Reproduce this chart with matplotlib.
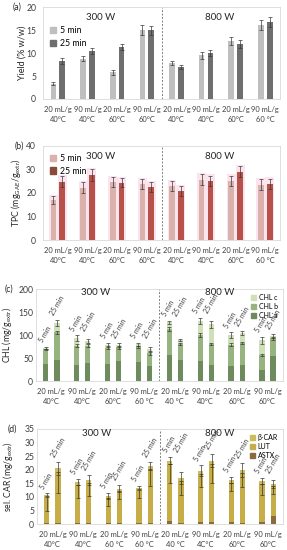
import numpy as np
import matplotlib.pyplot as plt
from matplotlib.patches import Patch

plt.rcParams['font.family'] = ['Lato', 'DejaVu Sans']
plt.rcParams['font.size'] = 5.5
plt.rcParams['mathtext.fontset'] = 'custom'
plt.rcParams['mathtext.rm'] = 'Lato'
plt.rcParams['mathtext.it'] = 'Lato:italic'

# conditions (4 at 300 W, 4 at 800 W)
labels_ab = ['20 mL/g\n40°C', '90 mL/g\n40°C', '20 mL/g\n60°C', '90 mL/g\n60°C',
             '20 mL/g\n40°C', '90 mL/g\n40°C', '20 mL/g\n60°C', '90 mL/g\n60 °C']
labels_c = ['20 mL/g\n40°C', '90 mL/g\n40°C', '20 mL/g\n60°C', '90 mL/g\n60 °C',
            '20 mL/g\n40 °C', '90 mL/g\n40°C', '20 mL/g\n60°C', '90 mL/g\n60°C']
labels_d = ['20 mL/g\n40°C', '90 mL/g\n40°C', '20 mL/g\n60 °C', '90 mL/g\n60 °C',
            '20 mL/g\n40 °C', '90 mL/g\n4C°C', '20 mL/g\n60°C', '90 mL/g\n60°C']

# (a) yield
yield5 = [3.3, 8.8, 5.8, 15.1, 7.8, 9.5, 12.6, 16.1]
yield5_err = [0.3, 0.6, 0.5, 1.1, 0.5, 0.7, 0.8, 1.1]
yield25 = [8.3, 10.5, 11.3, 15.0, 6.9, 10.0, 12.0, 16.7]
yield25_err = [0.6, 0.7, 0.7, 1.0, 0.4, 0.6, 0.8, 1.1]

# (b) TPC
tpc5 = [17.0, 22.3, 24.6, 23.8, 23.0, 25.6, 25.1, 23.5]
tpc5_err = [1.8, 2.2, 2.2, 2.2, 2.2, 2.3, 2.3, 2.3]
tpc25 = [24.8, 27.8, 24.4, 22.5, 20.9, 25.2, 29.1, 23.8]
tpc25_err = [2.3, 2.5, 2.0, 2.2, 2.0, 2.2, 2.5, 2.3]

# (c) chlorophylls
chla5 = [37, 35, 37, 42, 56, 44, 33, 25]
chlb5 = [32, 42, 36, 33, 57, 56, 46, 32]
chlc5 = [4, 17, 6, 5, 15, 31, 21, 32]
chla25 = [46, 39, 44, 33, 46, 35, 35, 54]
chlb25 = [60, 38, 30, 28, 35, 46, 48, 39]
chlc25 = [21, 10, 5, 9, 9, 43, 22, 6]
chlb5_err = [2, 3, 3, 2, 4, 4, 3, 3]
chlb25_err = [4, 3, 3, 3, 3, 3, 3, 3]
chl5_err = [2, 6, 5, 3, 4, 7, 6, 8]
chl25_err = [6, 5, 4, 4, 2, 8, 5, 4]

# (d) selected carotenoids
astx5 = [0.4, 0.4, 0.3, 0.3, 1.2, 0.7, 0.8, 0.8]
lut5 = [9.6, 14.1, 9.3, 12.2, 21.0, 17.8, 14.4, 14.1]
bcar5 = [0.8, 1.0, 0.7, 0.9, 1.2, 1.1, 1.0, 1.0]
astx25 = [0.5, 0.4, 0.4, 0.4, 0.6, 0.7, 0.6, 3.0]
lut25 = [18.8, 14.9, 11.8, 19.8, 15.2, 21.4, 18.2, 11.0]
bcar25 = [1.2, 1.0, 0.8, 1.2, 1.0, 1.3, 1.1, 0.9]
lut5_err = [5, 5, 3, 3, 7, 5, 3, 4]
lut25_err = [8, 5, 3, 6, 5, 7, 5, 3]
car5_err = [0.5, 1.0, 1.2, 0.6, 1.3, 2.0, 1.2, 1.2]
car25_err = [2.3, 1.8, 1.3, 1.5, 2.2, 2.5, 2.5, 1.5]

x = np.arange(8)
ecol = '#3a3a3a'
ekw = dict(fmt='none', ecolor=ecol, elinewidth=0.5, capsize=1.3, capthick=0.5)


def style(ax, ymax, step, ylabel, lab_x, lab_fs, ypad, tag, tag_x, labels, ttl_y):
    ax.set_xlim(-0.5, 7.5)
    ax.set_ylim(0, ymax)
    ax.set_yticks(np.arange(0, ymax + step / 2, step))
    ax.set_xticks(x)
    ax.set_xticklabels(labels, linespacing=1.45)
    ax.tick_params(length=0, labelsize=5.4, colors='#404040')
    ax.tick_params(axis='y', pad=ypad, labelsize=6.2)
    ax.tick_params(axis='x', pad=5)
    for s in ax.spines.values():
        s.set_color('#d9d9d9')
        s.set_linewidth(0.6)
    ax.axvline(3.5, color='#808080', ls=(0, (2, 1.6)), lw=0.7)
    ax.text(1.45, ymax * ttl_y, '300 W', ha='center', va='center', fontsize=7, color='#262626')
    ax.text(5.45, ymax * ttl_y, '800 W', ha='center', va='center', fontsize=7, color='#262626')
    ax.set_ylabel(ylabel, fontsize=lab_fs, color='#262626')
    ax.yaxis.set_label_coords(lab_x, 0.5)
    ax.text(tag_x, 1.0, tag, transform=ax.transAxes, ha='left', va='center', fontsize=6.2, color='#262626')


def time_labels(ax, top5, top25, ymax, off):
    for i in range(8):
        y5 = top5[i] + 0.035 * ymax
        y25 = max(top25[i], top5[i]) + 0.035 * ymax
        ax.text(i - off - 0.07, y5, '5 min', rotation=60, rotation_mode='anchor',
                ha='left', va='bottom', fontsize=5, color='#404040')
        ax.text(i + off - 0.07, y25, '25 min', rotation=60, rotation_mode='anchor',
                ha='left', va='bottom', fontsize=5, color='#404040')


fig = plt.figure(figsize=(2.87, 5.5), dpi=100)
ax_a = fig.add_axes([0.150, 0.820, 0.826, 0.167])
ax_b = fig.add_axes([0.150, 0.5636, 0.826, 0.171])
ax_c = fig.add_axes([0.125, 0.307, 0.861, 0.167])
ax_d = fig.add_axes([0.129, 0.047, 0.857, 0.173])

# (a)
w, off = 0.19, 0.15
c5, c25 = '#bfbfbf', '#6e6e6e'
ax_a.bar(x - off, yield5, w, color=c5)
ax_a.bar(x + off, yield25, w, color=c25)
ax_a.errorbar(x - off, yield5, yerr=yield5_err, **ekw)
ax_a.errorbar(x + off, yield25, yerr=yield25_err, **ekw)
style(ax_a, 20, 5, 'Yield (% w/w)', -0.07, 6.5, 5, '(a)', -0.13, labels_ab, 0.89)
ax_a.legend(handles=[Patch(color=c5, label='5 min'), Patch(color=c25, label='25 min')],
            loc='upper left', bbox_to_anchor=(0.01, 0.84), frameon=False, fontsize=6.3,
            handlelength=0.7, handleheight=0.7, handletextpad=0.5, labelspacing=0.4, borderpad=0)

# (b)
c5, c25 = '#dbb1ab', '#b8514a'
tpc5_top = np.array(tpc5) + np.array(tpc5_err)
tpc25_top = np.array(tpc25) + np.array(tpc25_err)
ax_b.bar(x - off, tpc5_top + 0.5, 0.3, color='#fbe4ee', zorder=0)
ax_b.bar(x + off, tpc25_top + 0.5, 0.3, color='#fbe4ee', zorder=0)
ax_b.bar(x - off, tpc5, w, color=c5)
ax_b.bar(x + off, tpc25, w, color=c25)
ax_b.errorbar(x - off, tpc5, yerr=tpc5_err, **ekw)
ax_b.errorbar(x + off, tpc25, yerr=tpc25_err, **ekw)
style(ax_b, 40, 10, r'TPC (mg$_{\mathrm{GAE}}$/g$_{\mathrm{extr}}$)', -0.083, 6.3, 5, '(b)', -0.12,
      labels_ab, 0.89)
ax_b.legend(handles=[Patch(color=c5, label='5 min'), Patch(color='#8a4a38', label='25 min')],
            loc='upper left', bbox_to_anchor=(0.01, 0.96), frameon=False, fontsize=6.3,
            handlelength=0.7, handleheight=0.7, handletextpad=0.5, labelspacing=0.4, borderpad=0)

# (c)
w, off = 0.17, 0.18
ca, cb, cc = '#6e8b5d', '#97b37f', '#cfe0b9'
for pos, a, b, c in [(x - off, chla5, chlb5, chlc5), (x + off, chla25, chlb25, chlc25)]:
    a, b, c = np.array(a), np.array(b), np.array(c)
    ax_c.bar(pos, a, w, color=ca)
    ax_c.bar(pos, b, w, bottom=a, color=cb)
    ax_c.bar(pos, c, w, bottom=a + b, color=cc)
ab5 = np.array(chla5) + np.array(chlb5)
ab25 = np.array(chla25) + np.array(chlb25)
tot5 = ab5 + np.array(chlc5)
tot25 = ab25 + np.array(chlc25)
ax_c.errorbar(x - off, ab5, yerr=chlb5_err, **ekw)
ax_c.errorbar(x + off, ab25, yerr=chlb25_err, **ekw)
ax_c.errorbar(x - off, tot5, yerr=chl5_err, **ekw)
ax_c.errorbar(x + off, tot25, yerr=chl25_err, **ekw)
style(ax_c, 200, 50, r'CHL (mg/g$_{\mathrm{extr}}$)', -0.088, 6.2, 2, '(c)', -0.125, labels_c, 0.96)
time_labels(ax_c, tot5 + np.array(chl5_err), tot25 + np.array(chl25_err), 200, off)
ax_c.legend(handles=[Patch(color=cc, label='CHL c'), Patch(color=cb, label='CHL b'),
                     Patch(color=ca, label='CHL a')],
            loc='upper right', bbox_to_anchor=(1.0, 1.0), frameon=False, fontsize=5,
            handlelength=0.7, handleheight=0.7, handletextpad=0.4, labelspacing=0.3, borderpad=0.2)

# (d)
cx, cl, cbc = '#8b6a3e', '#c6ad47', '#c9bd5e'
for pos, s, l, bc in [(x - off, astx5, lut5, bcar5), (x + off, astx25, lut25, bcar25)]:
    s, l, bc = np.array(s), np.array(l), np.array(bc)
    ax_d.bar(pos, s, w, color=cx)
    ax_d.bar(pos, l, w, bottom=s, color=cl)
    ax_d.bar(pos, bc, w, bottom=s + l, color=cbc)
sl5 = np.array(astx5) + np.array(lut5)
sl25 = np.array(astx25) + np.array(lut25)
car5 = sl5 + np.array(bcar5)
car25 = sl25 + np.array(bcar25)
ax_d.errorbar(x - off, sl5, yerr=[lut5_err, np.zeros(8)], **ekw)
ax_d.errorbar(x + off, sl25, yerr=[lut25_err, np.zeros(8)], **ekw)
ax_d.errorbar(x - off, car5, yerr=car5_err, **ekw)
ax_d.errorbar(x + off, car25, yerr=car25_err, **ekw)
style(ax_d, 35, 5, r'sel. CAR (mg/g$_{\mathrm{extr}}$)', -0.09, 6.2, 2, '(d)', -0.12, labels_d, 0.95)
time_labels(ax_d, car5 + np.array(car5_err), car25 + np.array(car25_err), 35, off)
ax_d.legend(handles=[Patch(color=cbc, label='β-CAR'), Patch(color=cl, label='LUT'),
                     Patch(color=cx, label='ASTX')],
            loc='upper right', bbox_to_anchor=(1.0, 1.0), frameon=False, fontsize=5,
            handlelength=0.7, handleheight=0.7, handletextpad=0.4, labelspacing=0.3, borderpad=0.2)

fig.savefig('out.png', dpi=100)
